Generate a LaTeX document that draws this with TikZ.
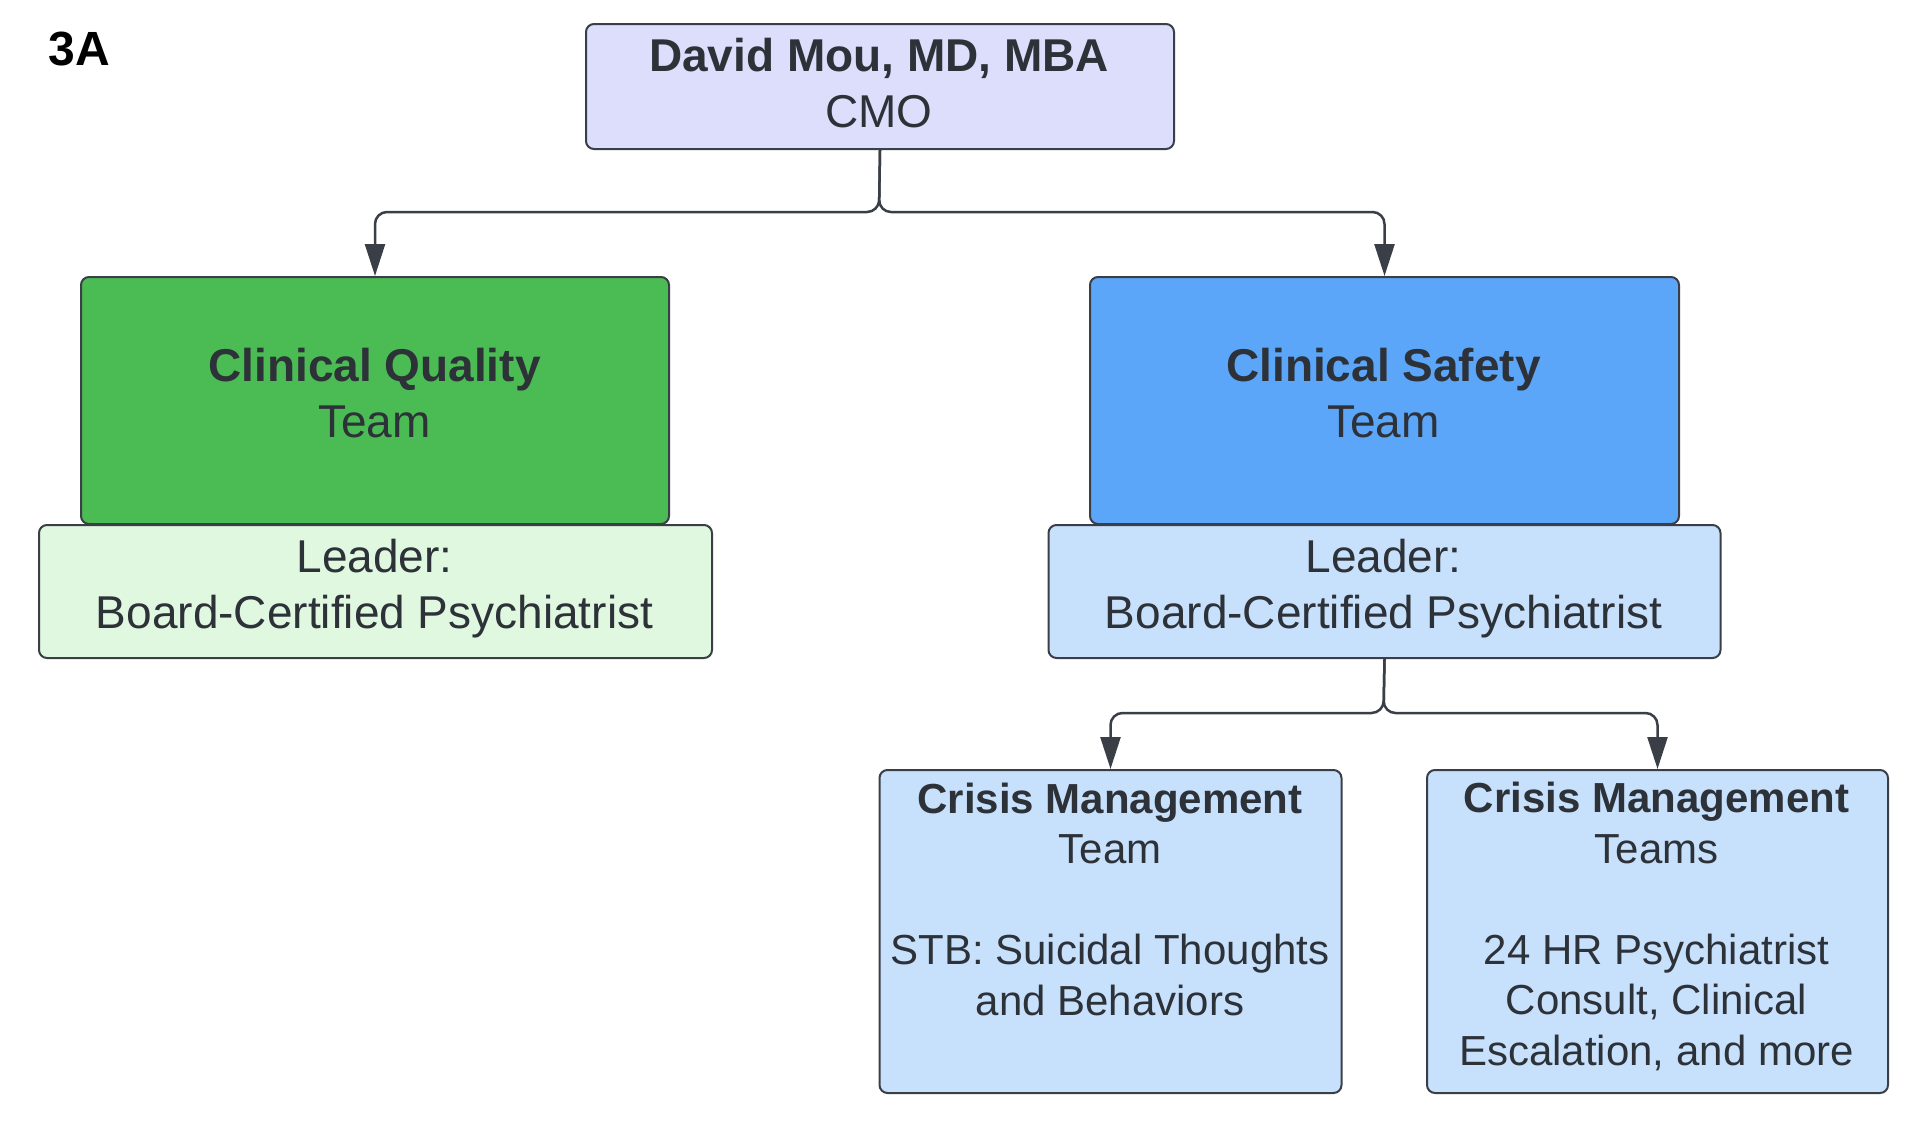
\documentclass[tikz,border=0pt]{standalone}
\usepackage{fontspec}
\setmainfont{Liberation Sans}
\usetikzlibrary{arrows.meta}
\definecolor{txt}{RGB}{45,49,56}
\definecolor{bord}{RGB}{58,63,71}
\definecolor{cmofill}{RGB}{221,222,251}
\definecolor{greenfill}{RGB}{75,187,83}
\definecolor{lgreenfill}{RGB}{224,247,224}
\definecolor{bluefill}{RGB}{92,166,250}
\definecolor{lbluefill}{RGB}{199,224,252}
\begin{document}
\begin{tikzpicture}[x=1pt,y=-1pt,
  boxnode/.style={draw=bord, line width=2pt, rounded corners=8pt, inner sep=0pt, anchor=north west},
  bigtext/.style={text=txt, align=center, inner sep=0pt, font=\fontsize{46}{56}\selectfont},
  smalltext/.style={text=txt, align=center, inner sep=0pt, font=\fontsize{42}{50.5}\selectfont},
  conn/.style={draw=bord, line width=2.5pt, rounded corners=12pt, -{Triangle[length=32pt,width=20pt]}}
]
\useasboundingbox (0,0) rectangle (1908,1127);

% label
\node[font=\fontsize{48}{56}\selectfont\bfseries, text=black, inner sep=0pt] (lab) at (79,49) {3A};

% boxes
\node[boxnode, fill=cmofill, minimum width=588pt, minimum height=125pt] (cmo) at (585,23) {};
\node[boxnode, fill=greenfill, minimum width=588pt, minimum height=247pt] (green) at (80,276) {};
\node[boxnode, fill=lgreenfill, minimum width=673pt, minimum height=133pt] (lgreen) at (38,524) {};
\node[boxnode, fill=bluefill, minimum width=589pt, minimum height=247pt] (blue) at (1089,276) {};
\node[boxnode, fill=lbluefill, minimum width=672pt, minimum height=133pt] (lblue) at (1047.5,524) {};
\node[boxnode, fill=lbluefill, minimum width=462pt, minimum height=323pt] (c1) at (878.5,769) {};
\node[boxnode, fill=lbluefill, minimum width=461pt, minimum height=323pt] (c2) at (1426,769) {};

% texts
\node[bigtext] (cmot) at (879,83) {\textbf{David Mou, MD, MBA}\\CMO};
\node[bigtext] (greent) at (374.5,393) {\textbf{Clinical Quality}\\Team};
\node[bigtext] (lgreent) at (374.5,589) {Leader:\\Board-Certified Psychiatrist};
\node[bigtext] (bluet) at (1383.5,393) {\textbf{Clinical Safety}\\Team};
\node[bigtext] (lbluet) at (1383.5,589) {Leader:\\Board-Certified Psychiatrist};
\node[smalltext] (c1t) at (1110,899) {\textbf{Crisis Management}\\Team\\[50.5pt]STB: Suicidal Thoughts\\and Behaviors};
\node[smalltext] (c2t) at (1656.5,926.5) {\textbf{Crisis Management}\\Teams\\[50.5pt]24 HR Psychiatrist\\Consult, Clinical\\Escalation, and more};

% connectors
\coordinate (j1) at (879,212);
\coordinate (j2) at (1383.5,713);
\draw[conn] (cmo.south) -- (j1) -| (green.north);
\draw[conn] (cmo.south) -- (j1) -| (blue.north);
\draw[conn] (lblue.south) -- (j2) -| (c1.north);
\draw[conn] (lblue.south) -- (j2) -| (c2.north);
\end{tikzpicture}
\end{document}
